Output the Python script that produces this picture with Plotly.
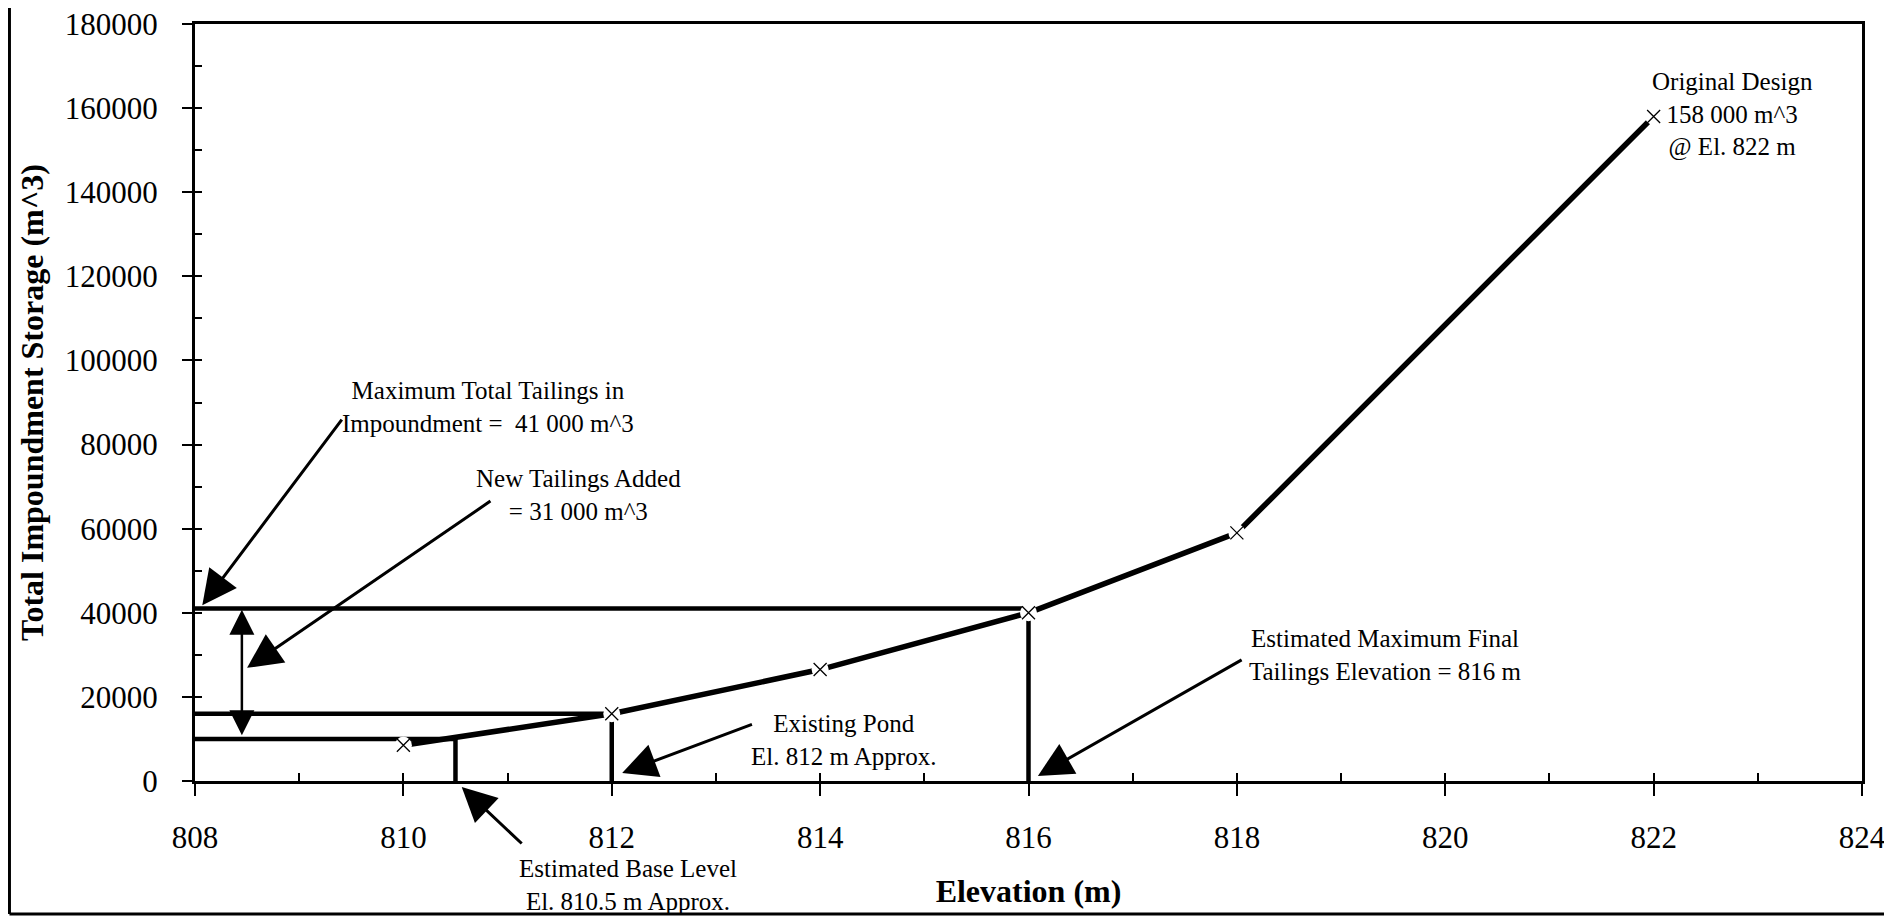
import plotly.graph_objects as go

# ---- data ----
elevation = [810, 812, 814, 816, 818, 822]
storage = [8500, 16000, 26500, 40000, 59000, 158000]

x_ticks = [808, 810, 812, 814, 816, 818, 820, 822, 824]
y_ticks = [0, 20000, 40000, 60000, 80000, 100000, 120000, 140000, 160000, 180000]

base_elev = 810.5
base_storage = 10000
pond_elev = 812
pond_storage = 16000
final_elev = 816
final_storage = 41000
x_min = 808
x_max = 824
y_max = 180000

FONT = "Liberation Serif"

fig = go.Figure()

# horizontal reference levels
for lvl, end in [(final_storage, final_elev), (pond_storage, pond_elev), (base_storage, base_elev)]:
    fig.add_trace(go.Scatter(x=[x_min, end], y=[lvl, lvl], mode="lines",
                             line=dict(color="black", width=4.5), showlegend=False, hoverinfo="skip"))
# vertical reference lines
for e, top in [(base_elev, base_storage), (pond_elev, pond_storage), (final_elev, storage[3])]:
    fig.add_trace(go.Scatter(x=[e, e], y=[0, top], mode="lines",
                             line=dict(color="black", width=4.5), showlegend=False, hoverinfo="skip"))

# main curve
fig.add_trace(go.Scatter(x=elevation, y=storage, mode="lines",
                         line=dict(color="black", width=5.5), showlegend=False, hoverinfo="skip"))
# white gaps around markers
fig.add_trace(go.Scatter(x=elevation, y=storage, mode="markers",
                         marker=dict(symbol="circle", size=17, color="white"),
                         showlegend=False, hoverinfo="skip"))
fig.add_trace(go.Scatter(x=elevation, y=storage, mode="markers",
                         marker=dict(symbol="x-thin", size=13, line=dict(color="black", width=1.3)),
                         showlegend=False))

# overlay axes for inside ticks
fig.add_trace(go.Scatter(x=[x_min], y=[0], xaxis="x2", yaxis="y2", mode="markers",
                         marker=dict(opacity=0), showlegend=False, hoverinfo="skip"))

ann = []
TXT = dict(family=FONT, size=25, color="black")

def text_ann(x, y, t):
    ann.append(dict(x=x, y=y / y_max, xref="x", yref="y domain", text=t, showarrow=False,
                    xanchor="center", yanchor="middle", font=TXT, align="center"))

def arrow(x0, y0, x1, y1, side="end", width=3, size=2.3):
    ann.append(dict(x=x1, y=y1 / y_max, ax=x0, ay=y0 / y_max, xref="x", yref="y domain",
                    axref="x", ayref="y domain",
                    text="", showarrow=True, arrowhead=2, arrowsize=size, arrowwidth=width,
                    arrowcolor="black", arrowside=side, standoff=0, startstandoff=0))

text_ann(810.81, 89000, "Maximum Total Tailings in<br>Impoundment =  41 000 m^3")
arrow(809.42, 86300, 808.07, 41800)
text_ann(811.68, 68000, "New Tailings Added<br>= 31 000 m^3")
arrow(810.85, 66800, 808.5, 26900)
arrow(808.45, 10500, 808.45, 40700, side="end+start", width=2.5, size=2.0)
text_ann(814.22, 9800, "Existing Pond<br>El. 812 m Approx.")
arrow(813.36, 13600, 812.1, 1900)
text_ann(819.43, 30000, "Estimated Maximum Final<br>Tailings Elevation = 816 m")
arrow(818.06, 29000, 816.09, 1200)
text_ann(822.76, 158400, "Original Design<br>158 000 m^3<br>@ El. 822 m")
text_ann(812.16, -24700, "Estimated Base Level<br>El. 810.5 m Approx.")
arrow(811.15, -15200, 810.56, -1400)

# outer frame lines (paper coords)
shapes = [
    dict(type="line", xref="paper", yref="paper", x0=-0.1113, x1=-0.1113, y0=-0.1757, y1=1.03,
         line=dict(color="black", width=3)),
    dict(type="line", xref="paper", yref="paper", x0=-0.1113, x1=1.05, y0=-0.1757, y1=-0.1757,
         line=dict(color="black", width=3)),
]

fig.update_layout(
    width=1884, height=911,
    margin=dict(l=187, r=30, t=16, b=138, autoexpand=False),
    paper_bgcolor="white", plot_bgcolor="white",
    font=dict(family=FONT, color="black"),
    showlegend=False,
    annotations=ann,
    shapes=shapes,
    xaxis=dict(range=[x_min, x_max], tickvals=x_ticks, ticktext=[str(v) for v in x_ticks],
               showgrid=False, zeroline=False, showline=True, linecolor="black", linewidth=3,
               mirror=True, ticks="outside", ticklen=12, tickwidth=1.5, tickcolor="black",
               tickfont=dict(family=FONT, size=31), ticklabelstandoff=15, ticklabeloverflow="allow",
               automargin=False,
               title=dict(text="<b>Elevation (m)</b>", font=dict(family=FONT, size=32), standoff=26)),
    yaxis=dict(range=[0, y_max], tickvals=y_ticks, ticktext=[str(v) for v in y_ticks],
               showgrid=False, zeroline=False, showline=True, linecolor="black", linewidth=3,
               mirror=True, ticks="outside", ticklen=10, tickwidth=1.5, tickcolor="black",
               tickfont=dict(family=FONT, size=31), ticklabelstandoff=18, ticklabeloverflow="allow",
               automargin=False,
               title=dict(text="<b>Total Impoundment Storage (m^3)</b>", font=dict(family=FONT, size=32),
                          standoff=12)),
    xaxis2=dict(range=[x_min, x_max], overlaying="x", side="bottom", anchor="y", showgrid=False,
                zeroline=False, showline=False, ticks="inside", dtick=1, tick0=808, ticklen=8,
                tickwidth=1.5, tickcolor="black", showticklabels=False, automargin=False),
    yaxis2=dict(range=[0, y_max], overlaying="y", side="left", anchor="x", showgrid=False,
                zeroline=False, showline=False, ticks="inside", dtick=10000, tick0=0, ticklen=7,
                tickwidth=1.5, tickcolor="black", showticklabels=False, automargin=False),
)

fig.write_html("out.html")
